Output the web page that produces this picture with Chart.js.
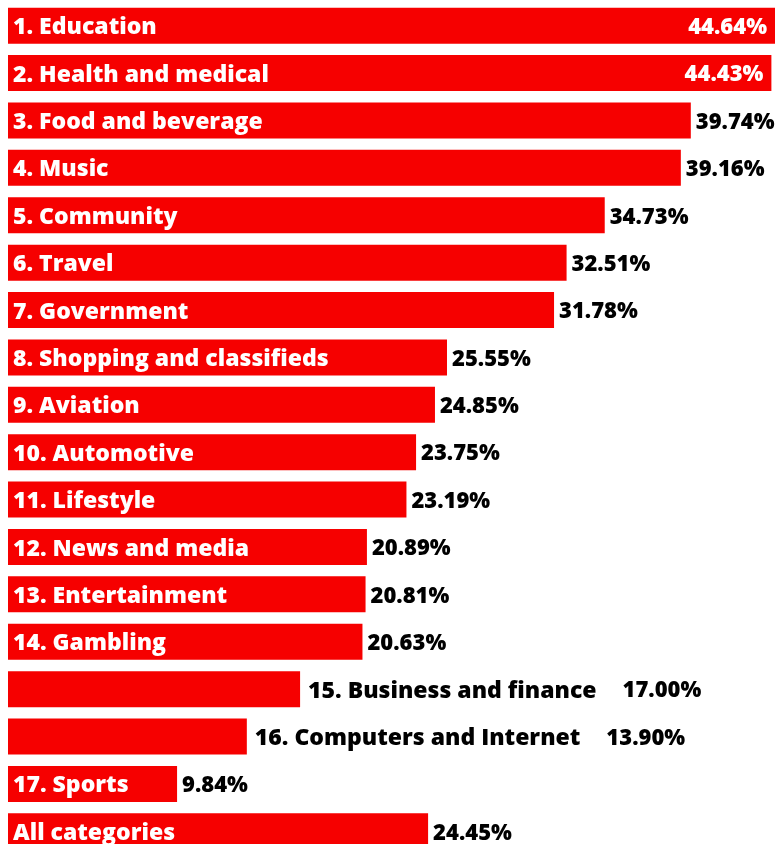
<!DOCTYPE html>
<html>
<head>
<meta charset="utf-8">
<script src="https://cdn.jsdelivr.net/npm/chart.js@4"></script>
<style>
  html, body { margin: 0; padding: 0; background: #fff; overflow: hidden; }
  #wrap { position: relative; width: 775px; height: 856px; }
</style>
</head>
<body>
<div id="wrap"><canvas id="chart"></canvas></div>
<script>
// Share of sites per category
const categories = [
  '1. Education', '2. Health and medical', '3. Food and beverage', '4. Music',
  '5. Community', '6. Travel', '7. Government', '8. Shopping and classifieds',
  '9. Aviation', '10. Automotive', '11. Lifestyle', '12. News and media',
  '13. Entertainment', '14. Gambling', '15. Business and finance',
  '16. Computers and Internet', '17. Sports', 'All categories'
];
const values = [
  44.64, 44.43, 39.74, 39.16, 34.73, 32.51, 31.78, 25.55, 24.85,
  23.75, 23.19, 20.89, 20.81, 20.63, 17.00, 13.90, 9.84, 24.45
];

const RED = '#f60000';
const NAME_FONT = '800 23px "Open Sans", "DejaVu Sans", sans-serif';
const VALUE_FONT = '800 22px "Open Sans", "DejaVu Sans", sans-serif';

const barLabels = {
  id: 'barLabels',
  afterDatasetsDraw(chart) {
    const { ctx } = chart;
    const meta = chart.getDatasetMeta(0);
    ctx.save();
    ctx.textBaseline = 'middle';
    meta.data.forEach((bar, i) => {
      const left = bar.base;
      const right = bar.x;
      const y = bar.y + 2;
      const name = categories[i];
      const val = values[i].toFixed(2) + '%';
      ctx.font = NAME_FONT;
      const nameW = ctx.measureText(name).width;
      const nameInside = nameW + 24 < right - left;

      if (nameInside) {
        ctx.fillStyle = '#fff';
        ctx.textAlign = 'left';
        ctx.fillText(name, left + 5, y);
        ctx.font = VALUE_FONT;
        const valW = ctx.measureText(val).width;
        // value goes inside too if it would run off the canvas
        if (right + valW > chart.width) {
          ctx.textAlign = 'right';
          ctx.fillText(val, right - 8, y);
        } else {
          ctx.fillStyle = '#000';
          ctx.textAlign = 'left';
          ctx.fillText(val, right + 5, y);
        }
      } else {
        ctx.fillStyle = '#000';
        ctx.textAlign = 'left';
        ctx.fillText(name, right + 8, y);
        ctx.font = VALUE_FONT;
        ctx.fillText(val, right + 8 + nameW + 26, y);
      }
    });
    ctx.restore();
  }
};

new Chart(document.getElementById('chart'), {
  type: 'bar',
  data: {
    labels: categories,
    datasets: [{
      data: values,
      backgroundColor: RED,
      borderWidth: 0,
      barPercentage: 0.76,
      categoryPercentage: 1
    }]
  },
  options: {
    indexAxis: 'y',
    responsive: true,
    maintainAspectRatio: false,
    animation: false,
    layout: { padding: { left: 8, right: 0, top: 2, bottom: 1 } },
    scales: {
      x: { min: 0, max: 44.64, display: false },
      y: { display: false }
    },
    plugins: {
      legend: { display: false },
      tooltip: { enabled: false }
    }
  },
  plugins: [barLabels]
});
</script>
</body>
</html>
